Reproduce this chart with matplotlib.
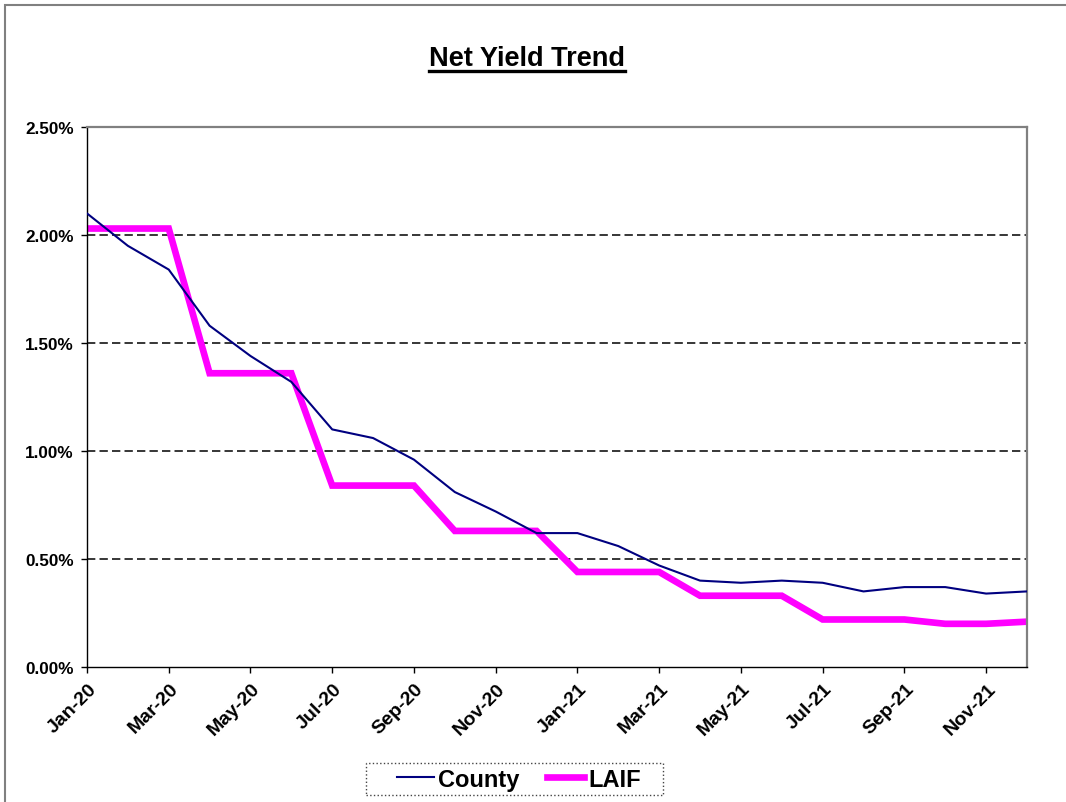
import matplotlib.pyplot as plt
import matplotlib.transforms as mtransforms
from matplotlib.patches import Rectangle
from matplotlib.lines import Line2D

plt.rcParams["font.family"] = ["Liberation Sans", "DejaVu Sans"]
plt.rcParams["font.weight"] = "bold"
plt.rcParams["lines.scale_dashes"] = False

# Monthly net yields (%) Jan-20 .. Dec-21
months = ["Jan-20", "Feb-20", "Mar-20", "Apr-20", "May-20", "Jun-20",
          "Jul-20", "Aug-20", "Sep-20", "Oct-20", "Nov-20", "Dec-20",
          "Jan-21", "Feb-21", "Mar-21", "Apr-21", "May-21", "Jun-21",
          "Jul-21", "Aug-21", "Sep-21", "Oct-21", "Nov-21", "Dec-21"]
county = [2.10, 1.95, 1.84, 1.58, 1.44, 1.32, 1.10, 1.06, 0.96, 0.81, 0.72, 0.62,
          0.62, 0.56, 0.47, 0.40, 0.39, 0.40, 0.39, 0.35, 0.37, 0.37, 0.34, 0.35]
laif = [2.03, 2.03, 2.03, 1.36, 1.36, 1.36, 0.84, 0.84, 0.84, 0.63, 0.63, 0.63,
        0.44, 0.44, 0.44, 0.33, 0.33, 0.33, 0.22, 0.22, 0.22, 0.20, 0.20, 0.21]
y_ticks = [0.0, 0.5, 1.0, 1.5, 2.0, 2.5]

fig = plt.figure(figsize=(10.66, 8.03), dpi=100)
ax = fig.add_axes([0.0816, 0.1681, 0.8818, 0.6725])

x = list(range(len(months)))

# dashed horizontal gridlines
for v in y_ticks[1:-1]:
    ax.axhline(v, color="black", linewidth=1.1, dashes=(6, 3), zorder=1)

ax.plot(x, county, color="#000080", linewidth=1.5, label="County", zorder=3)
ax.plot(x, laif, color="#FF00FF", linewidth=4.8, label="LAIF", zorder=2,
        solid_joinstyle="miter")

ax.set_xlim(0, len(months) - 1)
ax.set_ylim(0, 2.5)
ax.set_yticks(y_ticks)
ax.set_yticklabels([f"{v:.2f}%" for v in y_ticks], fontsize=12.3, fontweight="bold")
ax.set_xticks(x[::2])
ax.set_xticklabels(months[::2], fontsize=14, fontweight="bold", rotation=45,
                   ha="right", va="center", rotation_mode="anchor")
ax.tick_params(axis="both", direction="out", length=4.5, width=1, color="black")
ax.tick_params(axis="y", pad=5)
ax.tick_params(axis="x", pad=9)

# nudge the slanted month labels a little to the right
shift = mtransforms.ScaledTranslation(5 / 72, 0, fig.dpi_scale_trans)
for lbl in ax.get_xticklabels():
    lbl.set_transform(lbl.get_transform() + shift)

for side in ["left", "bottom"]:
    ax.spines[side].set_color("black")
    ax.spines[side].set_linewidth(1)
for side in ["top", "right"]:
    ax.spines[side].set_color("#808080")
    ax.spines[side].set_linewidth(1.6)

# title with underline
title = fig.text(0.4944, 0.926, "Net Yield Trend", fontsize=19.5, fontweight="bold",
                 ha="center", va="center")
fig.canvas.draw()
bb = title.get_window_extent().transformed(fig.transFigure.inverted())
fig.add_artist(Line2D([bb.x0, bb.x1], [bb.y0 + 0.001, bb.y0 + 0.001],
                      transform=fig.transFigure, color="black", linewidth=2.4))

# legend below the plot, with its own dotted box
leg = fig.legend(loc="center", bbox_to_anchor=(0.4865, 0.0286), ncol=2,
                 fontsize=17, frameon=False, handlelength=1.6,
                 handletextpad=0.15, columnspacing=1.15)
for t in leg.get_texts():
    t.set_fontweight("bold")
fig.add_artist(Rectangle((366 / 1066, 1 - 796 / 803), 297 / 1066, 32 / 803,
                         transform=fig.transFigure, fill=False,
                         edgecolor="#444444", linewidth=1, linestyle=":"))

# outer chart border
fig.add_artist(Rectangle((0.005, -0.01), 1.1, 1.0025, transform=fig.transFigure,
                         fill=False, edgecolor="#808080", linewidth=1.5))

fig.savefig("out.png", dpi=100)
